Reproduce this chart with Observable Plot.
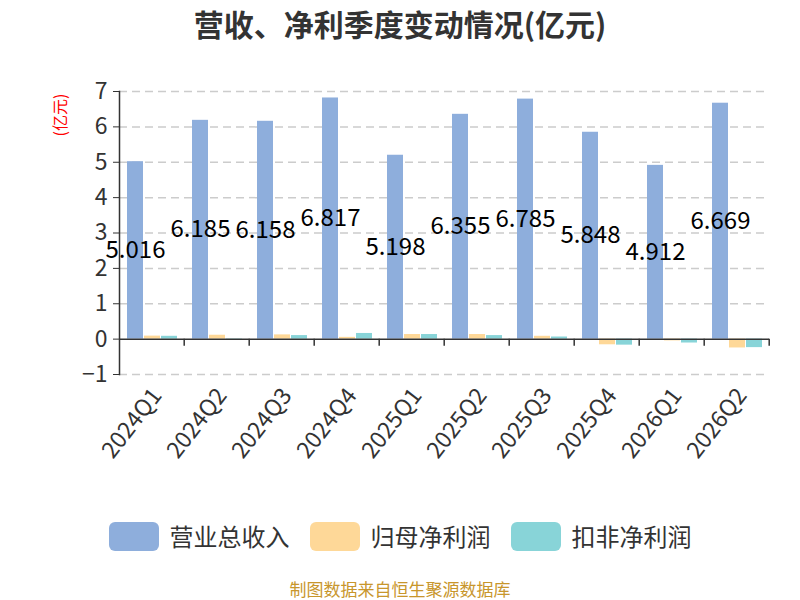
<!DOCTYPE html>
<html>
<head>
<meta charset="utf-8">
<script src="https://cdn.jsdelivr.net/npm/d3@7"></script>
<script src="https://cdn.jsdelivr.net/npm/@observablehq/plot@0.6"></script>
<style>
  html, body { margin: 0; padding: 0; background: #fff; }
  body { font-family: "Noto Sans CJK SC", "Noto Sans", sans-serif; }
  #wrap { position: relative; width: 800px; height: 600px; overflow: hidden; background: #fff; }
  #title { position: absolute; top: 0; left: 0; width: 800px; text-align: center;
           font-size: 30px; font-weight: bold; color: #333; line-height: 46px; }
  #ylabel { position: absolute; left: 59px; top: 115px; transform: translate(-50%, -50%) rotate(-90deg);
            color: #ff0000; font-size: 16px; white-space: nowrap; line-height: 16px; }
  #chart { position: absolute; top: 0; left: 0; }
  #legend { position: absolute; top: 521px; left: 0; width: 800px; display: flex; justify-content: center;
            align-items: center; gap: 20px; }
  .item { display: flex; align-items: center; gap: 11px; font-size: 24px; color: #333; line-height: 30px; }
  .sw { width: 50px; height: 29px; border-radius: 6px; }
  #footer { position: absolute; top: 577px; left: 0; width: 800px; text-align: center;
            font-size: 17px; color: #c8962c; line-height: 24px; }
</style>
</head>
<body>
<div id="wrap">
  <div id="chart"></div>
  <div id="title"></div>
  <div id="ylabel"></div>
  <div id="legend"></div>
  <div id="footer"></div>
</div>
<script>
const titleText = "营收、净利季度变动情况(亿元)";
const unitText = "(亿元)";
const footerText = "制图数据来自恒生聚源数据库";

const quarters = ["2024Q1", "2024Q2", "2024Q3", "2024Q4", "2025Q1", "2025Q2", "2025Q3", "2025Q4", "2026Q1", "2026Q2"];
const seriesNames = ["营业总收入", "归母净利润", "扣非净利润"];
const seriesColors = ["#8eaedc", "#fed898", "#88d4d8"];
const revenue = [5.016, 6.185, 6.158, 6.817, 5.198, 6.355, 6.785, 5.848, 4.912, 6.669];
const netProfit = [0.085, 0.11, 0.12, 0.05, 0.13, 0.13, 0.08, -0.16, -0.05, -0.25];
const deductedProfit = [0.08, 0.01, 0.10, 0.16, 0.13, 0.10, 0.06, -0.17, -0.11, -0.24];
const yTicks = [-1, 0, 1, 2, 3, 4, 5, 6, 7];

const seriesValues = [revenue, netProfit, deductedProfit];
const rows = [];
quarters.forEach((q, i) => {
  seriesNames.forEach((s, j) => rows.push({ quarter: q, series: s, value: seriesValues[j][i] }));
});
const revenueRows = rows.filter(d => d.series === seriesNames[0]);

document.getElementById("title").textContent = titleText;
document.getElementById("ylabel").textContent = unitText;
document.getElementById("footer").textContent = footerText;
const legend = document.getElementById("legend");
seriesNames.forEach((s, j) => {
  const it = document.createElement("div");
  it.className = "item";
  const sw = document.createElement("div");
  sw.className = "sw";
  sw.style.background = seriesColors[j];
  const tx = document.createElement("span");
  tx.textContent = s;
  it.appendChild(sw);
  it.appendChild(tx);
  legend.appendChild(it);
});

const chart = Plot.plot({
  width: 800,
  height: 500,
  marginTop: 91,
  marginBottom: 126,
  marginLeft: 119,
  marginRight: 31,
  style: { fontFamily: '"Noto Sans CJK SC", "Noto Sans", sans-serif', fontSize: "22px", color: "#333", background: "transparent" },
  fx: { domain: quarters, paddingInner: 0, paddingOuter: 0, label: null },
  x: { domain: seriesNames, paddingInner: 0.073, paddingOuter: 0.36, axis: null },
  y: { domain: [-1, 7], label: null },
  color: { domain: seriesNames, range: seriesColors },
  marks: [
    Plot.gridY(yTicks.filter(d => d !== 0), { stroke: "#cccccc", strokeOpacity: 1, strokeWidth: 1.5, strokeDasharray: "8,5" }),
    Plot.barY(rows, { fx: "quarter", x: "series", y: "value", fill: "series" }),
    Plot.ruleY([0], { stroke: "#333", strokeWidth: 1.5 }),
    Plot.ruleX([seriesNames[2]], { x: d => d, dx: 14.7, y1: 0, y2: -0.2, stroke: "#333", strokeWidth: 1.5 }),
    Plot.frame({ anchor: "left", facetAnchor: "left", stroke: "#333", strokeWidth: 1.5 }),
    Plot.axisY({ ticks: yTicks, tickSize: 6, tickPadding: 6, fontSize: 23, label: null, stroke: "#333" }),
    Plot.axisFx({ anchor: "bottom", tickSize: 0, tickPadding: 17, tickRotate: -52, dx: 5, fontSize: 23, label: null }),
    Plot.text(revenueRows, { fx: "quarter", x: "series", y: d => d.value / 2, text: d => d.value.toFixed(3), fontSize: 24, fill: "#000", lineAnchor: "middle" })
  ]
});
document.getElementById("chart").appendChild(chart);
</script>
</body>
</html>
